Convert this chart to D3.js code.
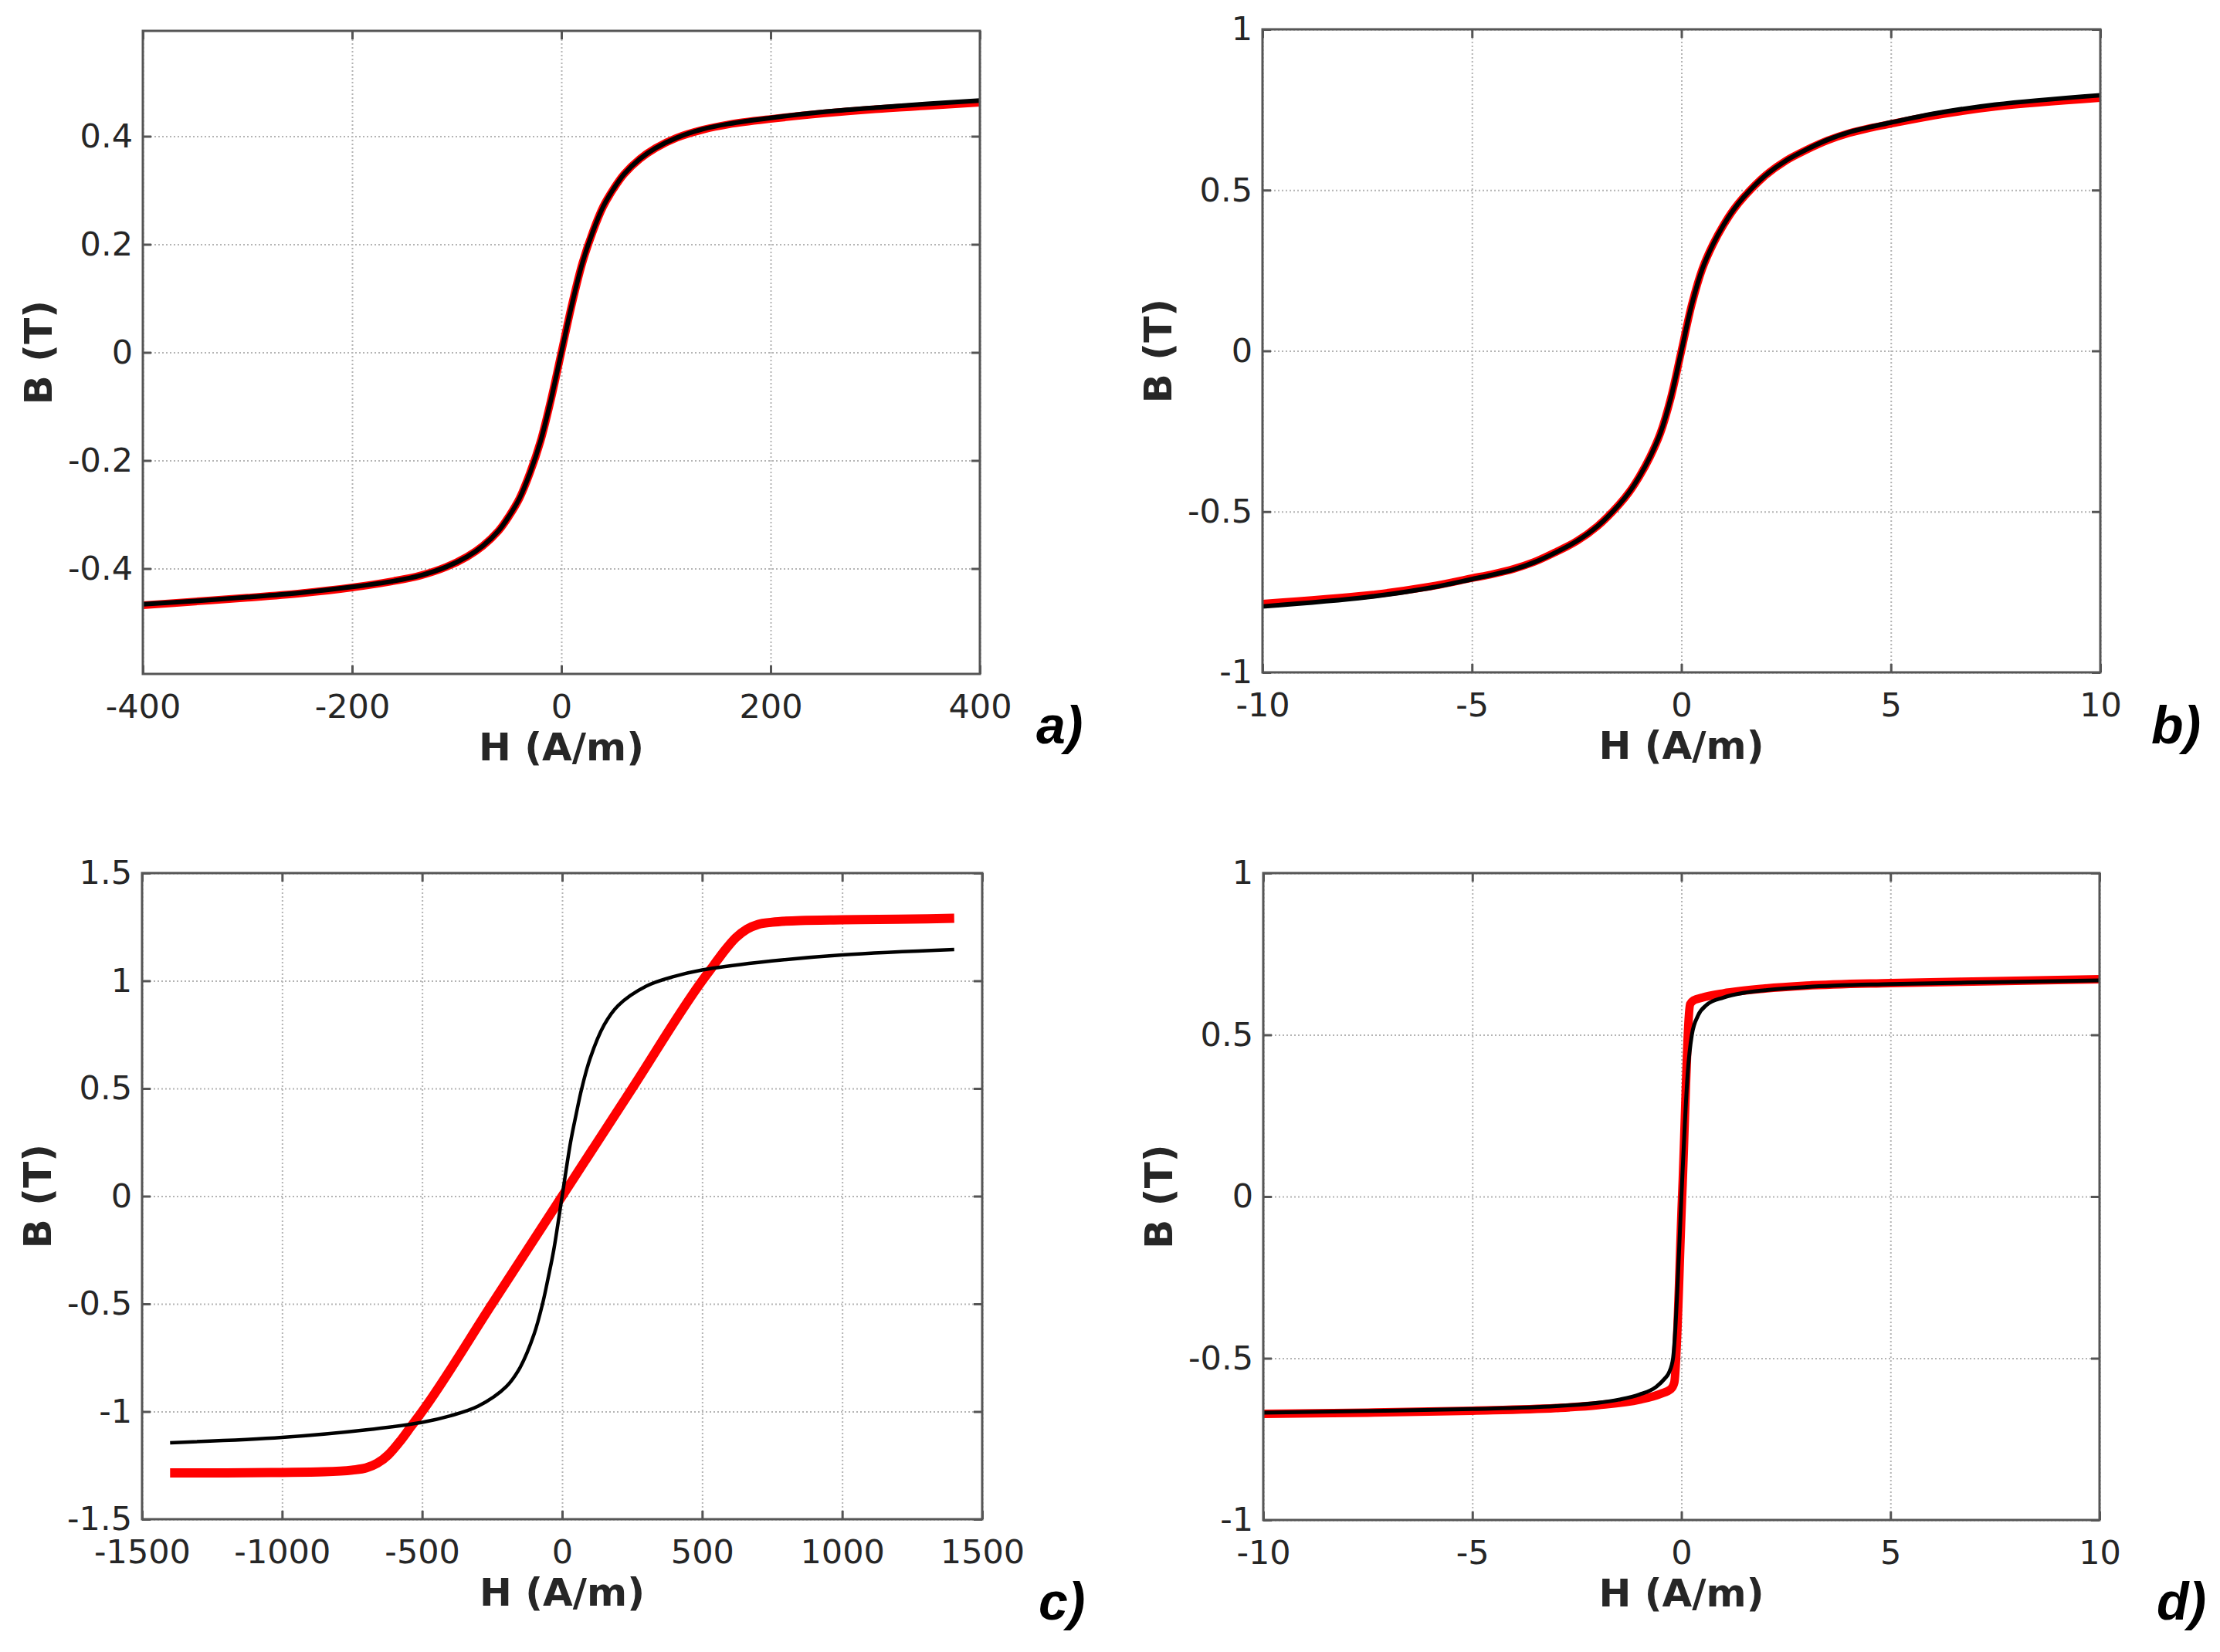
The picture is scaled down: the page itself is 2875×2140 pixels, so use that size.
<!DOCTYPE html>
<html>
<head>
<meta charset="utf-8">
<script src="https://cdn.jsdelivr.net/npm/d3@7"></script>
<style>
body { margin: 0; background: #fff; }
svg { display: block; }
</style>
</head>
<body>
<svg id="fig" width="2875" height="2140"></svg>
<script>
// ---- panel a) ----
var hA = [-400,-350,-300,-250,-200,-160,-135,-110,-90,-75,-60,-50,-40,-30,-20,-10,0,10,20,30,40,50,60,75,90,110,135,160,200,250,300,350,400];
var bA_black = [-0.466,-0.460,-0.453,-0.445,-0.434,-0.423,-0.413,-0.397,-0.378,-0.358,-0.330,-0.303,-0.270,-0.223,-0.165,-0.088,0,0.088,0.165,0.223,0.270,0.303,0.330,0.358,0.378,0.397,0.413,0.423,0.434,0.445,0.453,0.460,0.466];
var bA_red   = [-0.468,-0.461,-0.454,-0.446,-0.435,-0.423,-0.413,-0.397,-0.378,-0.358,-0.330,-0.303,-0.270,-0.223,-0.165,-0.088,0,0.088,0.165,0.223,0.270,0.303,0.330,0.358,0.378,0.397,0.412,0.422,0.432,0.442,0.450,0.456,0.462];
var xTicksA = [-400,-200,0,200,400];
var yTicksA = [-0.4,-0.2,0,0.2,0.4];

// ---- panel b) ----
var hB = [-10,-7.5,-6,-5,-4.5,-4,-3.5,-3,-2.5,-2,-1.5,-1.25,-1,-0.75,-0.5,-0.25,0,0.25,0.5,0.75,1,1.25,1.5,2,2.5,3,3.5,4,4.5,5,6,7.5,10];
var bB_black = [-0.795,-0.766,-0.737,-0.71,-0.696,-0.68,-0.657,-0.627,-0.592,-0.545,-0.48,-0.44,-0.39,-0.33,-0.255,-0.145,0,0.145,0.255,0.33,0.39,0.44,0.48,0.545,0.592,0.627,0.657,0.68,0.696,0.71,0.737,0.766,0.795];
var bB_red   = [-0.786,-0.760,-0.733,-0.707,-0.694,-0.678,-0.656,-0.626,-0.592,-0.545,-0.48,-0.44,-0.39,-0.33,-0.255,-0.145,0,0.145,0.255,0.33,0.39,0.44,0.48,0.545,0.592,0.626,0.655,0.677,0.693,0.706,0.731,0.759,0.786];
var xTicksB = [-10,-5,0,5,10];
var yTicksB = [-1,-0.5,0,0.5,1];

// ---- panel c) ----
var hC_black = [-1400,-1000,-700,-500,-400,-300,-200,-150,-100,-70,-50,-30,0,30,50,70,100,150,200,300,400,500,700,1000,1400];
var bC_black = [-1.145,-1.12,-1.085,-1.05,-1.02,-0.975,-0.885,-0.795,-0.64,-0.5,-0.38,-0.25,0,0.25,0.38,0.5,0.64,0.795,0.885,0.975,1.02,1.05,1.085,1.12,1.145];
var hC_red = [-1400,-1200,-1000,-850,-750,-700,-660,-620,-580,-540,-500,-250,0,250,500,540,580,620,660,700,750,850,1000,1200,1400];
var bC_red = [-1.285,-1.285,-1.283,-1.28,-1.272,-1.262,-1.24,-1.2,-1.14,-1.07,-1.0,-0.5,0,0.5,1.0,1.07,1.14,1.2,1.24,1.262,1.272,1.28,1.283,1.286,1.29];
var xTicksC = [-1500,-1000,-500,0,500,1000,1500];
var yTicksC = [-1.5,-1,-0.5,0,0.5,1,1.5];

// ---- panel d) ----
var hD_black = [-10,-7.5,-5,-3,-2,-1.5,-1,-0.6,-0.4,-0.3,-0.2,-0.15,-0.08,0,0.08,0.15,0.25,0.4,0.6,1,1.5,2,3,5,7.5,10];
var bD_black = [-0.668,-0.663,-0.657,-0.648,-0.638,-0.628,-0.612,-0.588,-0.563,-0.545,-0.5,-0.42,-0.24,0,0.22,0.38,0.5,0.56,0.592,0.615,0.63,0.638,0.648,0.657,0.663,0.668];
var hD_red = [-10,-7.5,-5,-3,-2,-1,-0.5,-0.25,-0.17,0.02,0.21,0.3,0.5,1,2,3,5,7.5,10];
var bD_red = [-0.672,-0.668,-0.662,-0.654,-0.645,-0.628,-0.61,-0.595,-0.575,0.01,0.595,0.607,0.615,0.628,0.643,0.652,0.66,0.666,0.672];
var xTicksD = [-10,-5,0,5,10];
var yTicksD = [-1,-0.5,0,0.5,1];

var smooth = d3.curveCatmullRom.alpha(0.5);
var knee = d3.curveMonotoneX;

var panels = [
  {letter:"a)", box:[185,40,1269,873], xDom:[-400,400], yDom:[-0.595,0.595], xt:xTicksA, yt:yTicksA,
   red:[hA,bA_red], black:[hA,bA_black], rc:smooth, bc:smooth, rw:10, bw:6, lx:1342, ly:963},
  {letter:"b)", box:[1635,38,2720,871], xDom:[-10,10], yDom:[-1,1], xt:xTicksB, yt:yTicksB,
   red:[hB,bB_red], black:[hB,bB_black], rc:smooth, bc:smooth, rw:10, bw:6, lx:2786, ly:963},
  {letter:"c)", box:[184,1131,1272,1968], xDom:[-1500,1500], yDom:[-1.5,1.5], xt:xTicksC, yt:yTicksC,
   red:[hC_red,bC_red], black:[hC_black,bC_black], rc:knee, bc:smooth, rw:12, bw:4.5, lx:1345, ly:2098},
  {letter:"d)", box:[1636,1131,2719,1969], xDom:[-10,10], yDom:[-1,1], xt:xTicksD, yt:yTicksD,
   red:[hD_red,bD_red], black:[hD_black,bD_black], rc:knee, bc:knee, rw:11, bw:5, lx:2793, ly:2098}
];

var svg = d3.select("#fig");
svg.append("rect").attr("width", 2875).attr("height", 2140).attr("fill", "#fff");

var fmt = function(d){ return String(d); };

panels.forEach(function(p){
  var w = p.box[2] - p.box[0],
      h = p.box[3] - p.box[1];
  var x = d3.scaleLinear().domain(p.xDom).range([0, w]);
  var y = d3.scaleLinear().domain(p.yDom).range([h, 0]);
  var g = svg.append("g").attr("transform", "translate(" + p.box[0] + "," + p.box[1] + ")");

  // grid
  g.append("g").attr("transform", "translate(0," + h + ")")
    .call(d3.axisBottom(x).tickValues(p.xt).tickSize(-h).tickFormat(""))
    .call(function(s){ s.select(".domain").remove(); });
  g.append("g")
    .call(d3.axisLeft(y).tickValues(p.yt).tickSize(-w).tickFormat(""))
    .call(function(s){ s.select(".domain").remove(); });
  g.selectAll(".tick line")
    .attr("stroke", "#b4b4b4").attr("stroke-width", 2).attr("stroke-dasharray", "2,3");

  // curves: red (measured) under black (model)
  var redPts = p.red[0].map(function(v, i){ return [x(v), y(p.red[1][i])]; });
  var blackPts = p.black[0].map(function(v, i){ return [x(v), y(p.black[1][i])]; });
  g.append("path").attr("d", d3.line().curve(p.rc)(redPts)).attr("fill", "none")
    .attr("stroke", "#ff0000").attr("stroke-width", p.rw).attr("stroke-linejoin", "round");
  g.append("path").attr("d", d3.line().curve(p.bc)(blackPts)).attr("fill", "none")
    .attr("stroke", "#000").attr("stroke-width", p.bw).attr("stroke-linejoin", "round");

  // axes with inward ticks
  var axStyle = function(s){
    s.select(".domain").remove();
    s.selectAll(".tick line").attr("stroke", "#555").attr("stroke-width", 3);
    s.selectAll(".tick text").attr("fill", "#262626")
      .attr("font-family", "DejaVu Sans").attr("font-size", 43);
  };
  g.append("g").attr("transform", "translate(0," + h + ")")
    .call(d3.axisBottom(x).tickValues(p.xt).tickSizeInner(-11).tickSizeOuter(0).tickFormat(fmt))
    .call(axStyle)
    .call(function(s){ s.selectAll(".tick text").attr("y", 57).attr("dy", 0); });
  g.append("g")
    .call(d3.axisLeft(y).tickValues(p.yt).tickSizeInner(-11).tickSizeOuter(0).tickPadding(13).tickFormat(fmt))
    .call(axStyle);
  g.append("g")
    .call(d3.axisTop(x).tickValues(p.xt).tickSizeInner(-11).tickSizeOuter(0).tickFormat(""))
    .call(axStyle);
  g.append("g").attr("transform", "translate(" + w + ",0)")
    .call(d3.axisRight(y).tickValues(p.yt).tickSizeInner(-11).tickSizeOuter(0).tickFormat(""))
    .call(axStyle);

  // frame
  g.append("rect").attr("width", w).attr("height", h)
    .attr("fill", "none").attr("stroke", "#555").attr("stroke-width", 3);

  // axis titles
  g.append("text").text("H (A/m)")
    .attr("x", w / 2).attr("y", h + 112)
    .attr("text-anchor", "middle")
    .attr("font-family", "DejaVu Sans").attr("font-weight", "bold").attr("font-size", 50)
    .attr("fill", "#262626");
  g.append("text").text("B (T)")
    .attr("transform", "translate(-118," + (h / 2) + ") rotate(-90)")
    .attr("text-anchor", "middle")
    .attr("font-family", "DejaVu Sans").attr("font-weight", "bold").attr("font-size", 50)
    .attr("fill", "#262626");

  // panel letter
  svg.append("text").text(p.letter)
    .attr("x", p.lx).attr("y", p.ly)
    .attr("font-family", "Liberation Sans").attr("font-weight", "bold")
    .attr("font-style", "italic").attr("font-size", 68)
    .attr("fill", "#000");
});
</script>
</body>
</html>
